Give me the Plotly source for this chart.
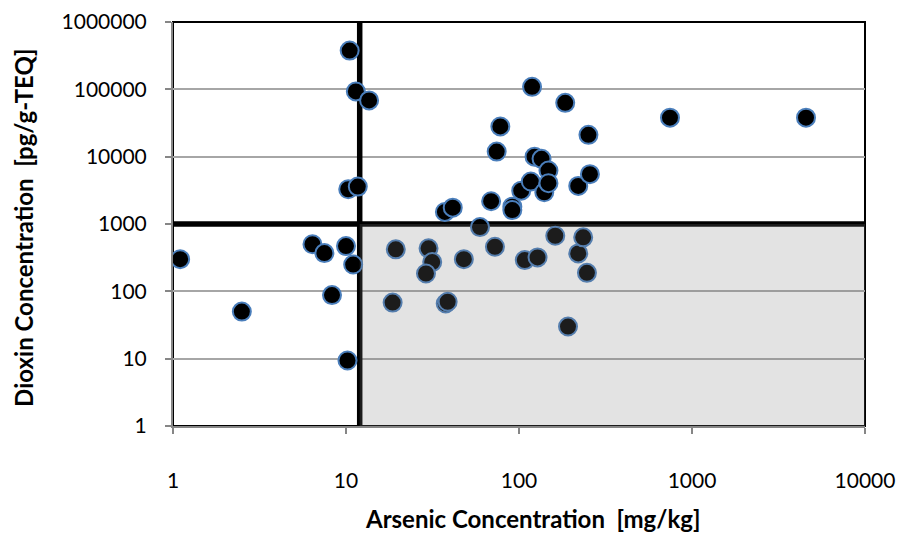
import plotly.graph_objects as go

# Arsenic concentration [mg/kg]
arsenic = [1.1, 2.5, 6.4, 7.5, 10.0, 11.0, 8.3, 10.2, 10.5, 11.4, 13.6, 10.3, 11.7,
           19.4, 18.6, 30.0, 31.5, 29.0, 37.7, 38.7, 37.3, 41.4, 48.0, 59.5, 69.0,
           72.6, 74.3, 78.0, 91.5, 91.5, 103, 108, 117, 119, 123, 128, 135, 140,
           148, 148, 162, 185, 192, 220, 220, 235, 247, 252, 257, 746, 4560]
# Dioxin concentration [pg/g-TEQ]
dioxin = [300, 50, 500, 370, 470, 250, 88, 9.4, 376000, 93000, 68500, 3280, 3590,
          420, 68, 435, 272, 184, 66, 70, 1510, 1750, 300, 900, 2180,
          459, 11900, 28100, 1810, 1610, 3130, 291, 4270, 109000, 10000, 319, 9290, 2960,
          6220, 4040, 669, 63000, 30, 3680, 366, 634, 188, 21100, 5500, 38000, 38000]

AS_LIMIT = 12        # arsenic threshold [mg/kg]
DIOXIN_LIMIT = 1000  # dioxin threshold [pg/g-TEQ]
X_MIN, X_MAX = 1, 10000
Y_MIN, Y_MAX = 1, 1000000

x_ticks = [1, 10, 100, 1000, 10000]
y_ticks = [1, 10, 100, 1000, 10000, 100000, 1000000]

FONT = "Lato, 'Open Sans', sans-serif"

fig = go.Figure()

# threshold lines (below markers)
fig.add_trace(go.Scatter(x=[AS_LIMIT, AS_LIMIT], y=[Y_MIN, Y_MAX], mode="lines",
                         line=dict(color="black", width=5.5), hoverinfo="skip", showlegend=False))
fig.add_trace(go.Scatter(x=[X_MIN, X_MAX], y=[DIOXIN_LIMIT, DIOXIN_LIMIT], mode="lines",
                         line=dict(color="black", width=5.5), hoverinfo="skip", showlegend=False))

# data points
fig.add_trace(go.Scatter(x=arsenic, y=dioxin, mode="markers",
                         marker=dict(size=18, color="black",
                                     line=dict(color="#4a7ebb", width=2)),
                         showlegend=False))

# translucent shaded region drawn above markers
fig.add_trace(go.Scatter(x=[AS_LIMIT, X_MAX, X_MAX, AS_LIMIT, AS_LIMIT],
                         y=[Y_MIN, Y_MIN, DIOXIN_LIMIT, DIOXIN_LIMIT, Y_MIN],
                         mode="lines", fill="toself",
                         fillcolor="rgba(127,127,127,0.22)",
                         line=dict(width=0), hoverinfo="skip", showlegend=False))

fig.update_layout(
    width=902, height=534,
    margin=dict(l=173, r=37, t=22, b=108),
    paper_bgcolor="white", plot_bgcolor="white",
    font=dict(family=FONT, size=21, color="black"),
    shapes=[dict(type="rect", xref="paper", yref="paper", x0=0, x1=1, y0=0, y1=1,
                 line=dict(color="black", width=2), layer="below")],
    annotations=[
        dict(text="<b>Arsenic Concentration  [mg/kg]</b>", xref="paper", yref="paper",
             x=0.52, y=-0.228, showarrow=False, font=dict(family=FONT, size=24),
             xanchor="center", yanchor="middle"),
        dict(text="<b>Dioxin Concentration  [pg/g-TEQ]</b>", xref="paper", yref="paper",
             x=-0.217, y=0.49, showarrow=False, textangle=-90,
             font=dict(family=FONT, size=24), xanchor="center", yanchor="middle"),
    ],
)

fig.update_xaxes(type="log", range=[0, 4], tickvals=x_ticks,
                 ticktext=[str(v) for v in x_ticks], automargin=False,
                 showgrid=False, zeroline=False,
                 showline=True, linecolor="#868686", linewidth=2,
                 ticks="outside", ticklen=6, tickcolor="#868686", tickwidth=2,
                 ticklabelstandoff=29, tickfont=dict(family=FONT, size=21))
fig.update_yaxes(type="log", range=[0, 6], tickvals=y_ticks,
                 ticktext=[str(v) for v in y_ticks], automargin=False,
                 showgrid=True, gridcolor="#a6a6a6", gridwidth=1.5, zeroline=False,
                 showline=True, linecolor="#868686", linewidth=2,
                 ticks="outside", ticklen=6, tickcolor="#868686", tickwidth=2,
                 ticklabelstandoff=14, tickfont=dict(family=FONT, size=21))

fig.write_html("out.html", config={"displayModeBar": False})

# remove the browser's default body margin so the figure fills the window exactly
with open("out.html", "r", encoding="utf-8") as f:
    html = f.read()
html = html.replace("<body>", '<body style="margin:0;padding:0;overflow:hidden">', 1)
with open("out.html", "w", encoding="utf-8") as f:
    f.write(html)
